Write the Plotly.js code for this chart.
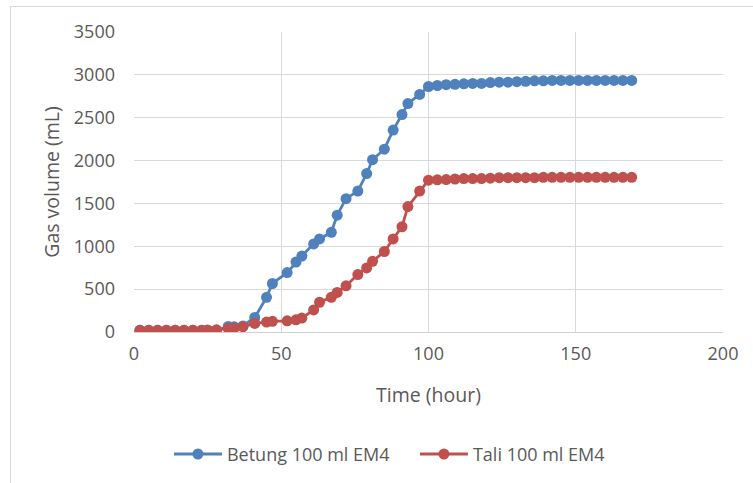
<!DOCTYPE html>
<html>
<head>
<meta charset="utf-8">
<script src="https://cdn.plot.ly/plotly-3.0.1.min.js"></script>
<style>
  html, body { margin: 0; padding: 0; background: #ffffff; }
  #wrap { position: relative; width: 753px; height: 483px; overflow: hidden; }
  #chart { width: 753px; height: 483px; }
  #frame { position: absolute; left: 10px; top: 6px; width: 800px; height: 600px;
           border-left: 1.5px solid #d9d9d9; border-top: 1.5px solid #d9d9d9; pointer-events: none; }
</style>
</head>
<body>
<div id="wrap">
  <div id="chart"></div>
  <div id="frame"></div>
</div>
<script>
// Time (hour)
const timeHours = [2,5,8,11,14,17,20,23,25,28,32,34,37,41,45,47,52,55,57,61,63,67,69,72,76,79,81,85,88,91,93,97,100,103,106,109,112,115,118,121,124,127,130,133,136,139,142,145,148,151,154,157,160,163,166,169];

// Gas volume (mL) - Betung 100 ml EM4
const betung = [20,20,20,20,20,20,20,20,20,20,65,60,70,170,404,566,693,816,886,1028,1086,1163,1363,1556,1644,1848,2010,2133,2356,2537,2665,2772,2864,2876,2885,2890,2895,2900,2900,2910,2915,2915,2920,2925,2930,2930,2935,2935,2935,2935,2935,2935,2935,2935,2935,2935];

// Gas volume (mL) - Tali 100 ml EM4
const tali = [20,20,20,20,20,20,20,20,22,25,40,45,62,100,116,125,130,142,162,258,347,404,462,539,670,747,824,939,1086,1228,1463,1644,1771,1775,1778,1785,1790,1790,1790,1795,1800,1800,1800,1800,1800,1805,1805,1805,1805,1805,1805,1805,1805,1805,1805,1805];

const seriesNames = ["Betung 100 ml EM4", "Tali 100 ml EM4"];
const xTitle = "Time (hour)";
const yTitle = "Gas volume (mL)";

const FONT = "Open Sans, Noto Sans, sans-serif";
const GREY = "#595959";

const traces = [
  { x: timeHours, y: betung, name: seriesNames[0], type: "scatter", mode: "lines+markers",
    line: { color: "#4f81bd", width: 2.8 }, marker: { color: "#4f81bd", size: 11 } },
  { x: timeHours, y: tali, name: seriesNames[1], type: "scatter", mode: "lines+markers",
    line: { color: "#c0504d", width: 2.8 }, marker: { color: "#c0504d", size: 11 } }
];

const layout = {
  width: 753, height: 483,
  paper_bgcolor: "#ffffff", plot_bgcolor: "#ffffff",
  margin: { l: 133.5, r: 29.7, t: 31.7, b: 149.7, pad: 0 },
  font: { family: FONT, color: GREY, size: 18 },
  showlegend: true,
  legend: { orientation: "h", x: 0.477, xanchor: "center", y: -0.403, yanchor: "middle",
            itemwidth: 48, entrywidth: 183, entrywidthmode: "pixels",
            font: { family: FONT, size: 18, color: GREY }, traceorder: "normal" },
  xaxis: {
    range: [0, 200], dtick: 50, tick0: 0, showgrid: true, gridcolor: "#d9d9d9", gridwidth: 1,
    zeroline: false, showline: true, linecolor: "#d0d0d0", linewidth: 1.3, ticks: "",
    tickfont: { family: FONT, size: 18, color: GREY }, ticklabelstandoff: 5,
    automargin: false,
    title: { text: xTitle, font: { family: FONT, size: 19.5, color: GREY }, standoff: 24 }
  },
  yaxis: {
    range: [0, 3500], dtick: 500, tick0: 0, showgrid: true, gridcolor: "#d9d9d9", gridwidth: 1,
    zeroline: false, showline: false, ticks: "",
    tickfont: { family: FONT, size: 18, color: GREY }, ticklabelstandoff: 18,
    automargin: false,
    title: { text: yTitle, font: { family: FONT, size: 19.5, color: GREY }, standoff: 9 }
  }
};

Plotly.newPlot("chart", traces, layout, { displayModeBar: false, staticPlot: true });
</script>
</body>
</html>
